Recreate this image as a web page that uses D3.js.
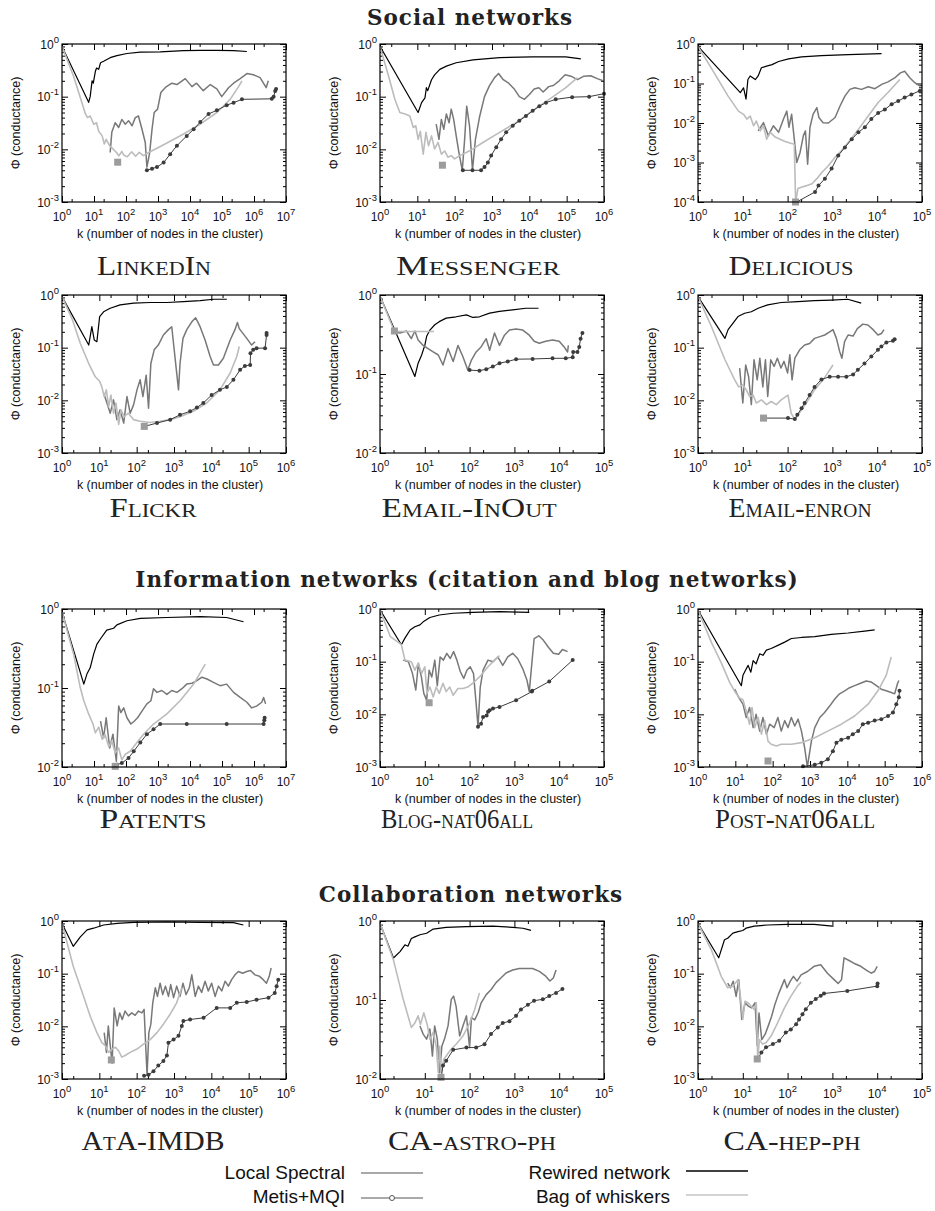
<!DOCTYPE html>
<html><head><meta charset="utf-8">
<script src="https://cdn.jsdelivr.net/npm/d3@7"></script>
<style>body{margin:0;background:#fff} svg{display:block}</style>
</head><body>
<svg id="chart" width="935" height="1211"></svg>
<script>
// ---------------- DATA (k = cluster size, phi = conductance) ----------------
const panelNames = ["LinkedIn","Messenger","Delicious","Flickr","Email-InOut","Email-enron","Patents","Blog-nat06all","Post-nat06all","AtA-IMDB","CA-astro-ph","CA-hep-ph"];
const xMaxExps = [7,6,5,6,5,5,7,5,6,6,5,5];
const yMinExps = [-3,-3,-4,-3,-2,-3,-2,-3,-3,-3,-2,-3];
const sectionTitles = ["Social networks","Information networks (citation and blog networks)","Collaboration networks"];
const legendLabels = ["Local Spectral","Metis+MQI","Rewired network","Bag of whiskers"];

// LinkedIn
const linkedinRewired = [[1,0.9],[6.8,0.078],[7.6,0.1],[8.7,0.2],[9.5,0.18],[11,0.3],[12,0.35],[14,0.33],[16,0.44],[20,0.47],[32,0.55],[52,0.6],[107,0.66],[280,0.7],[1180,0.71],[6300,0.75],[21000,0.76],[69000,0.76],[230000,0.75],[600000,0.72]];
const linkedinSpectral = [[32,0.0087],[36,0.021],[46,0.032],[59,0.026],[74,0.037],[95,0.03],[120,0.035],[155,0.028],[195,0.04],[245,0.043],[316,0.024],[400,0.0135],[450,0.0046],[550,0.0087],[650,0.024],[760,0.05],[970,0.058],[1230,0.12],[1700,0.15],[2700,0.18],[3900,0.17],[7100,0.22],[11500,0.155],[16000,0.18],[26000,0.13],[43000,0.17],[69000,0.14],[98000,0.1],[160000,0.148],[230000,0.18],[370000,0.22],[600000,0.275],[960000,0.26],[1550000,0.23],[2400000,0.148],[2800000,0.2]];
const linkedinWhiskers = [[1,0.9],[2.3,0.245],[4.2,0.077],[5.4,0.047],[6.3,0.04],[7.6,0.043],[9.8,0.03],[12,0.032],[14,0.022],[18,0.018],[21,0.0126],[24,0.0155],[31,0.0117],[39,0.0102],[52,0.0085],[60,0.0075],[74,0.0091],[85,0.0078],[110,0.0072],[150,0.009],[200,0.0074],[260,0.0088],[350,0.0076],[510,0.0087],[930,0.0105],[1900,0.0132],[6300,0.0195],[21000,0.03],[69000,0.05],[180000,0.089],[330000,0.155],[420000,0.2]];
const linkedinWhiskersMin = [55,0.0057];
const linkedinMetis = [[450,0.004],[650,0.0043],[930,0.0046],[1500,0.0056],[2400,0.0081],[3900,0.0117],[7900,0.018],[13000,0.024],[21000,0.033],[38000,0.047],[69000,0.055],[140000,0.069],[230000,0.077],[420000,0.089],[3600000,0.091],[4100000,0.1],[4600000,0.128],[4900000,0.14]];

// Messenger
const messengerRewired = [[1,0.9],[10.5,0.05],[13,0.077],[16,0.095],[17.5,0.148],[19,0.13],[24,0.21],[29,0.26],[40,0.33],[60,0.38],[110,0.44],[310,0.5],[1600,0.55],[12000,0.57],[95000,0.57],[240000,0.52]];
const messengerSpectral = [[32,0.03],[38,0.0155],[44,0.037],[51,0.024],[60,0.047],[71,0.032],[81,0.058],[94,0.037],[110,0.018],[130,0.0087],[160,0.004],[185,0.0155],[210,0.066],[250,0.028],[300,0.004],[360,0.0155],[470,0.043],[630,0.1],[850,0.16],[1170,0.23],[1500,0.275],[2000,0.21],[2800,0.18],[4000,0.138],[5400,0.1],[7400,0.089],[10000,0.11],[13500,0.14],[18000,0.148],[23500,0.123],[33000,0.155],[44000,0.163],[63000,0.2],[91000,0.26],[130000,0.245],[195000,0.21],[290000,0.245],[440000,0.25],[660000,0.22],[940000,0.2]];
const messengerWhiskers = [[1,0.9],[1.7,0.245],[2.5,0.089],[3.4,0.05],[4.7,0.047],[6.3,0.043],[7.8,0.026],[9.1,0.028],[10.5,0.0155],[12,0.022],[14.4,0.0081],[17,0.021],[20,0.0117],[24,0.018],[29,0.0102],[36,0.0135],[44,0.0081],[54,0.0093],[66,0.0071],[81,0.0076],[100,0.0066],[135,0.0076],[205,0.0087],[310,0.0102],[570,0.0135],[1600,0.021],[4400,0.032],[12300,0.054],[34000,0.089],[95000,0.148],[195000,0.23]];
const messengerWhiskersMin = [47,0.005];
const messengerMetis = [[166,0.004],[300,0.004],[510,0.004],[630,0.0046],[775,0.0056],[950,0.0076],[1300,0.011],[1750,0.0155],[2400,0.021],[3600,0.028],[5400,0.035],[8100,0.043],[12300,0.054],[18500,0.066],[28000,0.077],[51000,0.089],[140000,0.098],[400000,0.1],[1000000,0.114]];

// Delicious
const deliciousRewired = [[1,0.87],[8.8,0.059],[10.4,0.078],[11.8,0.04],[13,0.126],[14.6,0.155],[19,0.126],[22,0.155],[26,0.25],[34,0.275],[45,0.3],[63,0.36],[105,0.42],[205,0.47],[570,0.51],[2250,0.54],[12500,0.57]];
const deliciousSpectral = [[22,0.0063],[29,0.0102],[37,0.0048],[48,0.0085],[63,0.0058],[81,0.0126],[96,0.02],[107,0.0078],[123,0.0166],[141,0.0039],[160,0.001],[190,0.0018],[225,0.0048],[250,0.0063],[280,0.0009],[316,0.0078],[370,0.0166],[450,0.0245],[500,0.0138],[620,0.0102],[810,0.01],[1150,0.0138],[1480,0.027],[1900,0.048],[2450,0.071],[3160,0.078],[4470,0.071],[6300,0.083],[8900,0.074],[12600,0.095],[17400,0.11],[24500,0.138],[33000,0.186],[41000,0.204],[54000,0.138],[69000,0.105],[89000,0.087]];
const deliciousWhiskers = [[1,0.87],[2.3,0.186],[4.7,0.048],[8,0.02],[10.4,0.0166],[12.3,0.0126],[14.6,0.015],[17.4,0.0085],[20,0.0112],[24.5,0.0063],[29,0.0085],[34,0.0039],[41,0.0058],[53,0.0044],[68,0.0039],[88,0.0034],[112,0.0031],[141,0.0029],[151,0.0001],[170,0.00022],[210,0.00024],[270,0.00026],[350,0.00029],[450,0.00039],[580,0.00056],[810,0.00083],[1150,0.00135],[1600,0.002],[2250,0.0032],[3800,0.0069],[6300,0.015],[10500,0.033],[17400,0.059],[32000,0.126]];
const deliciousWhiskersMin = [150,0.0001];
const deliciousMetis = [[160,0.0001],[410,0.00018],[490,0.00026],[680,0.00039],[960,0.0007],[1350,0.0015],[1900,0.0024],[2700,0.0039],[3800,0.0058],[5300,0.0078],[7400,0.0126],[10500,0.018],[14800,0.022],[21000,0.03],[29500,0.036],[41000,0.044],[58000,0.053],[89000,0.065]];

// Flickr
const flickrRewired = [[1,0.93],[5.2,0.112],[6.3,0.25],[7.3,0.14],[8.6,0.13],[10.2,0.39],[13,0.48],[19.5,0.56],[36,0.65],[83,0.7],[230,0.72],[650,0.72],[1800,0.75],[5000,0.78],[11500,0.83],[26000,0.83]];
const flickrSpectral = [[13,0.0138],[16,0.0089],[19.6,0.0057],[24,0.0102],[29.5,0.0043],[36,0.0066],[45,0.0037],[55,0.0118],[67,0.0057],[83,0.0083],[102,0.0158],[124,0.0245],[147,0.0118],[180,0.03],[208,0.0071],[240,0.05],[295,0.091],[380,0.112],[520,0.174],[710,0.22],[870,0.25],[1320,0.0158],[1450,0.05],[1740,0.15],[2200,0.22],[3000,0.31],[3800,0.37],[5000,0.25],[6800,0.14],[9300,0.068],[11400,0.047],[15500,0.047],[21000,0.063],[32000,0.14],[43000,0.22],[50000,0.3],[56000,0.23],[89000,0.15],[120000,0.112],[148000,0.13]];
const flickrWhiskers = [[1,0.93],[1.9,0.34],[3.1,0.12],[5.2,0.05],[7.8,0.028],[10.2,0.023],[11.7,0.018],[13.5,0.0118],[15.4,0.0158],[17.7,0.0076],[20.4,0.0126],[24,0.0057],[28,0.0089],[33,0.0035],[38,0.0066],[46,0.0049],[60,0.0057],[83,0.0043],[124,0.004],[230,0.0038],[425,0.004],[790,0.0043],[1450,0.0049],[3300,0.0062],[7500,0.0089],[17000,0.0158],[32000,0.033],[48000,0.068],[56000,0.105]];
const flickrWhiskersMin = [160,0.0032];
const flickrMetis = [[160,0.0032],[350,0.0037],[790,0.0043],[1450,0.0053],[2700,0.0062],[4100,0.0073],[6100,0.0089],[10200,0.0126],[17000,0.0158],[26000,0.018],[39000,0.0245],[59000,0.038],[79000,0.045],[110000,0.047],[112000,0.078],[132000,0.091],[163000,0.098],[275000,0.098],[302000,0.174],[302000,0.19]];

// Email-InOut
const emailInOutRewired = [[1,0.97],[6,0.093],[7.1,0.137],[8.5,0.174],[10,0.23],[11,0.3],[13,0.36],[16.7,0.42],[21,0.46],[30,0.51],[50,0.53],[85,0.56],[118,0.52],[166,0.53],[280,0.59],[465,0.62],[910,0.65],[1800,0.68],[3450,0.68]];
const emailInOutSpectral = [[2,0.34],[2.8,0.33],[3.9,0.35],[5,0.28],[6,0.35],[7.1,0.27],[9.2,0.23],[11.8,0.21],[15.4,0.19],[20,0.174],[25.5,0.13],[33,0.21],[43,0.144],[55,0.23],[71,0.165],[91,0.112],[110,0.15],[140,0.19],[180,0.22],[235,0.28],[280,0.2],[360,0.33],[465,0.23],[600,0.31],[775,0.36],[1090,0.37],[1540,0.36],[2150,0.31],[2760,0.26],[3600,0.245],[5000,0.26],[7100,0.27],[10000,0.26],[12900,0.22],[15400,0.19],[16000,0.23]];
const emailInOutWhiskers = [[1,0.97],[2.1,0.345],[16,0.345]];
const emailInOutWhiskersMin = [2.1,0.35];
const emailInOutMetis = [[100,0.112],[166,0.11],[235,0.115],[330,0.124],[465,0.137],[710,0.144],[1090,0.154],[2550,0.155],[7100,0.158],[14000,0.158],[20000,0.163],[20500,0.19],[25500,0.19],[28000,0.22],[30000,0.28],[33000,0.33]];

// Email-enron
const emailEnronRewired = [[1,0.93],[4,0.15],[4.7,0.22],[6,0.29],[7.8,0.39],[11,0.45],[15.5,0.48],[22,0.56],[36,0.65],[72,0.72],[170,0.75],[400,0.78],[950,0.8],[2200,0.83],[4400,0.7]];
const emailEnronSpectral = [[8.5,0.041],[10,0.0089],[11.6,0.047],[13.5,0.028],[15.5,0.0083],[17.8,0.059],[21,0.0245],[24,0.063],[28,0.018],[32,0.059],[36,0.0118],[42,0.059],[50,0.044],[59,0.063],[71,0.041],[83,0.055],[100,0.033],[112,0.073],[126,0.0245],[145,0.063],[186,0.091],[240,0.112],[310,0.12],[400,0.15],[525,0.162],[675,0.174],[870,0.2],[1030,0.22],[1230,0.15],[1450,0.085],[1630,0.063],[1870,0.13],[2240,0.174],[2900,0.166],[3600,0.23],[4800,0.28],[6200,0.27],[8100,0.22],[10400,0.174],[12400,0.186],[14200,0.22]];
const emailEnronWhiskers = [[1,0.93],[2,0.25],[4,0.059],[6.6,0.0245],[8.1,0.018],[10,0.0196],[12,0.0158],[14.2,0.0118],[17,0.0126],[20,0.0089],[26,0.0102],[34,0.0083],[43,0.0095],[56,0.0083],[72,0.0102],[102,0.0126],[120,0.0057],[145,0.0043],[205,0.0066],[290,0.0102],[400,0.0158],[620,0.0245],[1030,0.047]];
const emailEnronWhiskersMin = [29,0.0046];
const emailEnronMetis = [[29,0.0046],[102,0.0046],[145,0.0044],[165,0.0053],[205,0.0071],[240,0.0089],[310,0.0126],[400,0.018],[570,0.025],[870,0.028],[1340,0.028],[2050,0.028],[2900,0.031],[3700,0.038],[5200,0.05],[7400,0.068],[10400,0.091],[12400,0.105],[16000,0.126],[22500,0.135],[24500,0.144]];

// Patents
const patentsRewired = [[1,0.92],[4.8,0.112],[6,0.15],[7.6,0.18],[9.8,0.27],[12.4,0.36],[16,0.42],[25,0.54],[41,0.57],[52,0.63],[107,0.71],[280,0.76],[1900,0.78],[21000,0.8],[140000,0.78],[470000,0.69]];
const patentsSpectral = [[16,0.038],[20,0.0234],[24,0.042],[31,0.0174],[39,0.026],[50,0.0118],[59,0.059],[69,0.049],[85,0.056],[107,0.042],[142,0.035],[180,0.038],[230,0.042],[316,0.051],[450,0.063],[600,0.069],[725,0.098],[930,0.088],[1320,0.093],[1900,0.083],[2700,0.093],[3900,0.088],[5600,0.098],[7900,0.112],[11500,0.115],[16000,0.123],[23500,0.137],[34000,0.13],[54000,0.118],[87000,0.107],[140000,0.112],[230000,0.088],[370000,0.076],[600000,0.066],[850000,0.056],[1200000,0.059],[1750000,0.066],[2000000,0.076],[2300000,0.063]];
const patentsWhiskers = [[1,0.92],[2.3,0.27],[3.7,0.102],[4.8,0.069],[6.8,0.047],[9.3,0.035],[11,0.027],[14,0.032],[18,0.0224],[22,0.026],[29,0.018],[36,0.0214],[46,0.015],[59,0.0174],[74,0.0123],[95,0.0145],[135,0.0158],[220,0.0204],[355,0.026],[725,0.035],[1900,0.047],[4900,0.069],[13000,0.112],[30000,0.2]];
const patentsWhiskersMin = [46,0.0102];
const patentsMetis = [[52,0.0107],[74,0.0112],[120,0.013],[174,0.0158],[280,0.0204],[450,0.026],[725,0.03],[1170,0.035],[7900,0.035],[140000,0.035],[2000000,0.035],[2100000,0.039],[2150000,0.042]];

// Blog-nat06all
const blogRewired = [[1,0.96],[3,0.21],[3.6,0.28],[4.7,0.4],[6,0.46],[7.8,0.5],[9.2,0.57],[13,0.69],[21,0.77],[43,0.83],[118,0.86],[465,0.89],[2150,0.86]];
const blogSpectral = [[3.3,0.107],[4.3,0.1],[5.3,0.06],[6.3,0.029],[7.2,0.093],[8.4,0.051],[9.5,0.025],[11,0.0186],[12.5,0.069],[14.3,0.051],[16.7,0.107],[19,0.035],[22,0.123],[26,0.107],[31,0.144],[37,0.115],[44,0.155],[52,0.107],[62,0.065],[74,0.048],[87,0.069],[103,0.08],[122,0.06],[140,0.016],[154,0.0058],[173,0.033],[200,0.069],[258,0.107],[333,0.1],[425,0.123],[550,0.085],[710,0.123],[915,0.144],[1180,0.115],[1530,0.074],[1900,0.045],[2150,0.027],[2450,0.093],[2760,0.275],[3500,0.31],[4400,0.257],[5800,0.186],[7400,0.144],[9700,0.138],[11800,0.17],[15400,0.155]];
const blogWhiskers = [[1,0.96],[1.7,0.3],[3,0.21],[3.6,0.107],[5,0.1],[6,0.069],[7.1,0.093],[8.5,0.06],[10,0.08],[11.2,0.025],[13,0.033],[15.4,0.0214],[18,0.033],[21,0.025],[25.5,0.039],[30,0.027],[36,0.033],[43,0.023],[55,0.031],[71,0.031],[91,0.033],[130,0.042],[180,0.055],[258,0.08],[360,0.107],[465,0.13]];
const blogWhiskersMin = [12.5,0.0166];
const blogMetis = [[154,0.0058],[180,0.0066],[200,0.0089],[240,0.0095],[258,0.0112],[280,0.012],[333,0.0129],[465,0.0138],[1090,0.0186],[2450,0.027],[2500,0.028],[6000,0.042],[20000,0.107]];

// Post-nat06all
const postRewired = [[1,0.96],[14.5,0.035],[16,0.055],[18.6,0.068],[22,0.085],[26,0.063],[30,0.105],[36,0.091],[45,0.141],[55,0.132],[68,0.166],[91,0.178],[138,0.204],[210,0.235],[316,0.275],[590,0.288],[1340,0.3],[3700,0.33],[10500,0.35],[29000,0.38],[54000,0.4]];
const postSpectral = [[9.6,0.03],[12.3,0.021],[16,0.0156],[19.6,0.0087],[24,0.0135],[30,0.0056],[36,0.01],[45,0.0048],[55,0.0087],[68,0.0042],[83,0.0065],[110,0.0056],[138,0.0087],[170,0.0048],[210,0.0076],[258,0.0056],[316,0.0087],[390,0.006],[480,0.0081],[590,0.0048],[720,0.0023],[850,0.001],[1090,0.0031],[1340,0.0056],[1830,0.0087],[2460,0.0108],[3400,0.0145],[4600,0.0195],[6200,0.0245],[8500,0.028],[11500,0.032],[15700,0.035],[21000,0.038],[32000,0.043],[44000,0.041],[60000,0.035],[81000,0.03],[110000,0.028],[150000,0.026],[185000,0.0245],[220000,0.038],[240000,0.044]];
const postWhiskers = [[1,0.96],[2.3,0.23],[4.2,0.095],[7.1,0.04],[9.6,0.0275],[13,0.0204],[16,0.019],[19.6,0.0115],[24,0.0065],[28,0.0135],[33,0.0056],[41,0.0087],[50,0.0042],[61,0.0076],[75,0.0031],[91,0.0027],[126,0.0025],[170,0.0027],[316,0.0027],[590,0.0029],[1340,0.0036],[3000,0.0048],[6900,0.0065],[15700,0.0093],[36000,0.0156],[66000,0.028],[110000,0.055],[150000,0.123]];
const postWhiskersMin = [75,0.0013];
const postMetis = [[650,0.00103],[1340,0.0011],[2000,0.0012],[3000,0.0014],[4100,0.002],[5100,0.0029],[6900,0.0033],[10500,0.0036],[14000,0.0042],[19500,0.0048],[26000,0.0065],[36000,0.0069],[54000,0.0076],[81000,0.0081],[123000,0.0093],[167000,0.0108],[205000,0.0156],[240000,0.021],[250000,0.028]];

// AtA-IMDB
const ataRewired = [[1,0.9],[2,0.33],[3.1,0.5],[4.7,0.68],[7,0.73],[13,0.84],[30,0.9],[83,0.94],[650,0.96],[5000,0.94],[39000,0.93],[72000,0.84]];
const ataSpectral = [[13.5,0.0076],[15.5,0.0032],[17.4,0.0102],[19.6,0.0043],[22,0.002],[25,0.0224],[30,0.0102],[35,0.018],[41,0.0135],[49,0.0195],[60,0.0158],[74,0.018],[91,0.0162],[112,0.0195],[138,0.018],[158,0.021],[178,0.0032],[190,0.0012],[212,0.0076],[240,0.011],[270,0.028],[316,0.054],[360,0.037],[425,0.066],[500,0.04],[590,0.058],[710,0.037],[815,0.062],[975,0.035],[1180,0.058],[1450,0.037],[1740,0.066],[2100,0.04],[2570,0.054],[3000,0.095],[3700,0.037],[4500,0.058],[5500,0.044],[6800,0.072],[8300,0.047],[10200,0.066],[12600,0.037],[15500,0.058],[19000,0.047],[23400,0.072],[28600,0.058],[35000,0.077],[43000,0.095],[53000,0.11],[69000,0.102],[89000,0.11],[112000,0.115],[148000,0.095],[195000,0.089],[245000,0.077],[300000,0.066],[355000,0.089],[400000,0.128]];
const ataWhiskers = [[1,0.9],[2,0.138],[3.8,0.037],[5.7,0.0155],[8.6,0.0076],[11.7,0.0049],[14.4,0.0043],[17.7,0.0032],[22,0.0037],[27,0.004],[33,0.0034],[40,0.0026],[49,0.0028],[67,0.0032],[102,0.0037],[152,0.0046],[230,0.0056],[350,0.0076],[520,0.011],[790,0.017],[1180,0.028],[1620,0.054]];
const ataWhiskersMin = [21,0.0023];
const ataMetis = [[158,0.00115],[208,0.0012],[282,0.0014],[380,0.0018],[520,0.0022],[645,0.0028],[710,0.0049],[975,0.0056],[1320,0.0066],[1620,0.0102],[1780,0.0126],[2700,0.0135],[6200,0.0145],[13900,0.0224],[32000,0.0224],[48000,0.028],[89000,0.029],[163000,0.032],[340000,0.035],[500000,0.043],[560000,0.058],[620000,0.077]];

// CA-astro-ph
const astroRewired = [[1,0.94],[2,0.34],[2.8,0.41],[3.6,0.5],[4.2,0.48],[5,0.6],[6,0.63],[7.8,0.67],[11,0.7],[15.4,0.79],[30,0.83],[85,0.85],[330,0.86],[920,0.83],[1550,0.81],[2350,0.76]];
const astroSpectral = [[7.8,0.047],[9.2,0.037],[11,0.032],[13,0.043],[14.8,0.0195],[16.6,0.047],[19,0.032],[21.5,0.012],[24,0.026],[27.5,0.032],[33,0.047],[39,0.102],[44,0.112],[50,0.083],[60,0.035],[71,0.047],[85,0.063],[100,0.025],[110,0.06],[130,0.056],[155,0.069],[180,0.091],[235,0.117],[300,0.135],[390,0.166],[500,0.19],[650,0.22],[915,0.24],[1290,0.25],[1820,0.25],[2550,0.25],[3600,0.23],[5000,0.2],[6200,0.174],[7400,0.19],[8500,0.24]];
const astroWhiskers = [[1,0.94],[2,0.32],[3.3,0.102],[5,0.045],[6,0.051],[7.1,0.063],[8,0.049],[9.5,0.069],[11.3,0.049],[13,0.032],[15.4,0.039],[18,0.026],[20,0.012],[21.5,0.026],[23.5,0.012],[26.5,0.0178],[30,0.0195],[39,0.024],[50,0.0275],[71,0.035],[100,0.051],[130,0.076],[166,0.123]];
const astroWhiskersMin = [23,0.0105];
const astroMetis = [[23,0.0102],[25.5,0.0148],[30,0.017],[43,0.0234],[85,0.025],[140,0.025],[215,0.0275],[300,0.037],[425,0.045],[550,0.051],[775,0.054],[1090,0.063],[1400,0.076],[2000,0.087],[2750,0.098],[4300,0.102],[6000,0.112],[8500,0.123],[11800,0.138]];

// CA-hep-ph
const hepRewired = [[1,0.9],[2.9,0.2],[3.9,0.44],[4.6,0.47],[6,0.59],[7.8,0.63],[10,0.66],[11.8,0.73],[18,0.8],[36,0.84],[100,0.86],[390,0.86],[1000,0.8]];
const hepSpectral = [[4.6,0.066],[5.3,0.054],[6.1,0.072],[7.1,0.037],[8.1,0.077],[9.5,0.0135],[11.2,0.028],[13.4,0.024],[15.8,0.0224],[18.8,0.028],[21,0.0043],[23,0.018],[26.5,0.0056],[31.6,0.0071],[37,0.0102],[44,0.0155],[52,0.026],[62,0.04],[74,0.058],[85,0.077],[97,0.054],[115,0.072],[135,0.089],[162,0.072],[200,0.095],[277,0.11],[390,0.138],[550,0.148],[775,0.102],[1090,0.077],[1340,0.065],[1600,0.077],[1820,0.2],[2350,0.178],[3000,0.158],[4300,0.138],[5800,0.115],[7400,0.102],[8700,0.11],[10000,0.138]];
const hepWhiskers = [[1,0.9],[2,0.28],[3.3,0.089],[4.6,0.054],[6,0.058],[7.8,0.077],[8.9,0.035],[10,0.0135],[11.2,0.03],[13,0.028],[15.4,0.024],[18,0.021],[20,0.028],[21.5,0.0024],[23.5,0.0056],[27.5,0.0046],[33,0.0049],[43,0.0066],[60,0.0117],[85,0.0224],[118,0.037],[166,0.058],[200,0.069]];
const hepWhiskersMin = [21,0.0024];
const hepMetis = [[21,0.0023],[26,0.0032],[33,0.004],[47,0.0046],[65,0.0053],[91,0.0076],[118,0.0087],[155,0.011],[180,0.0135],[215,0.017],[255,0.021],[330,0.028],[425,0.033],[550,0.038],[650,0.042],[2150,0.047],[10000,0.058],[10200,0.065]];

const rewiredSeries = [linkedinRewired,messengerRewired,deliciousRewired,flickrRewired,emailInOutRewired,emailEnronRewired,patentsRewired,blogRewired,postRewired,ataRewired,astroRewired,hepRewired];
const spectralSeries = [linkedinSpectral,messengerSpectral,deliciousSpectral,flickrSpectral,emailInOutSpectral,emailEnronSpectral,patentsSpectral,blogSpectral,postSpectral,ataSpectral,astroSpectral,hepSpectral];
const whiskersSeries = [linkedinWhiskers,messengerWhiskers,deliciousWhiskers,flickrWhiskers,emailInOutWhiskers,emailEnronWhiskers,patentsWhiskers,blogWhiskers,postWhiskers,ataWhiskers,astroWhiskers,hepWhiskers];
const whiskersMinPoints = [linkedinWhiskersMin,messengerWhiskersMin,deliciousWhiskersMin,flickrWhiskersMin,emailInOutWhiskersMin,emailEnronWhiskersMin,patentsWhiskersMin,blogWhiskersMin,postWhiskersMin,ataWhiskersMin,astroWhiskersMin,hepWhiskersMin];
const metisSeries = [linkedinMetis,messengerMetis,deliciousMetis,flickrMetis,emailInOutMetis,emailEnronMetis,patentsMetis,blogMetis,postMetis,ataMetis,astroMetis,hepMetis];

// ---------------- LAYOUT / STYLE ----------------
const W = 224, H = 158;
const colLeft = [62, 380, 698];
const rowTop = [44, 295, 609, 921];
const labelBase = [275, 517, 828, 1150];
const labelCenterX = [154,478,791, 153,469,800, 153,457,795, 153,472,792];
const labelWidths = [114,164,125, 87,175,143, 107,152,160, 143,168,137];
const sectionLayout = [{x:470,y:25},{x:467,y:587},{x:471,y:902}];
const COL = {rewired:'#000000', spectral:'#787878', whiskers:'#bcbcbc', metis:'#3c3c3c', square:'#9c9c9c'};
const SANS = "'Liberation Sans', Arial, Helvetica, sans-serif";
const SERIF = "'Liberation Serif', 'Times New Roman', serif";

const svg = d3.select('#chart');
svg.append('rect').attr('width',935).attr('height',1211).attr('fill','#fff');

function powLabel(sel, exp) {
  sel.append('tspan').text('10');
  sel.append('tspan').attr('dy', -6).attr('font-size', 9.5).text(String(exp));
}

panelNames.forEach((name, i) => {
  const r = Math.floor(i / 3), c = i % 3;
  const g = svg.append('g').attr('transform', `translate(${colLeft[c]},${rowTop[r]})`);
  const xMax = xMaxExps[i], yMin = yMinExps[i];
  const x = d3.scaleLog().domain([1, Math.pow(10, xMax)]).range([0, W]);
  const y = d3.scaleLog().domain([Math.pow(10, yMin), 1]).range([H, 0]);

  const xMajor = d3.range(0, xMax + 1).map(e => Math.pow(10, e));
  const xMinor = d3.range(0, xMax).map(e => 2 * Math.pow(10, e));
  const yMajor = d3.range(yMin, 1).map(e => Math.pow(10, e));
  const yMinor = [];
  for (let e = yMin; e < 0; e++) for (let m = 2; m <= 9; m++) yMinor.push(m * Math.pow(10, e));

  const clipId = 'clip' + i;
  g.append('clipPath').attr('id', clipId).append('rect').attr('width', W).attr('height', H);

  const addAxis = (axis, tx, ty) => {
    const a = g.append('g').attr('transform', `translate(${tx},${ty})`).call(axis);
    a.select('.domain').remove();
    a.selectAll('text').remove();
    a.selectAll('line').attr('stroke', '#000').attr('stroke-width', 1);
  };
  addAxis(d3.axisBottom(x).tickValues(xMajor).tickSizeInner(-6).tickSizeOuter(0), 0, H);
  addAxis(d3.axisBottom(x).tickValues(xMinor).tickSizeInner(-3).tickSizeOuter(0), 0, H);
  addAxis(d3.axisTop(x).tickValues(xMajor).tickSizeInner(-6).tickSizeOuter(0), 0, 0);
  addAxis(d3.axisTop(x).tickValues(xMinor).tickSizeInner(-3).tickSizeOuter(0), 0, 0);
  addAxis(d3.axisLeft(y).tickValues(yMajor).tickSizeInner(-6).tickSizeOuter(0), 0, 0);
  addAxis(d3.axisLeft(y).tickValues(yMinor).tickSizeInner(-3).tickSizeOuter(0), 0, 0);
  addAxis(d3.axisRight(y).tickValues(yMajor).tickSizeInner(-6).tickSizeOuter(0), W, 0);
  addAxis(d3.axisRight(y).tickValues(yMinor).tickSizeInner(-3).tickSizeOuter(0), W, 0);

  xMajor.forEach(d => {
    const t = g.append('text').attr('x', x(d)).attr('y', H + 19)
      .attr('text-anchor', 'middle').attr('font-family', SANS).attr('font-size', 12).attr('fill', '#111');
    powLabel(t, Math.round(Math.log10(d)));
  });
  yMajor.forEach(d => {
    const t = g.append('text').attr('x', -3).attr('y', y(d) + 4.5)
      .attr('text-anchor', 'end').attr('font-family', SANS).attr('font-size', 12).attr('fill', '#111');
    powLabel(t, Math.round(Math.log10(d)));
  });

  g.append('text').attr('x', W / 2 - 4).attr('y', H + 36).attr('text-anchor', 'middle')
    .attr('font-family', SANS).attr('font-size', 12.5).attr('fill', '#111')
    .text('k (number of nodes in the cluster)');
  g.append('text').attr('transform', `translate(${-42},${H / 2}) rotate(-90)`).attr('text-anchor', 'middle')
    .attr('font-family', SANS).attr('font-size', 12.5).attr('fill', '#111')
    .text('\u03A6 (conductance)');

  const line = d3.line().x(d => x(d[0])).y(d => y(d[1]));
  const plot = g.append('g').attr('clip-path', `url(#${clipId})`);
  plot.append('path').datum(rewiredSeries[i]).attr('d', line).attr('fill', 'none')
    .attr('stroke', COL.rewired).attr('stroke-width', 1.2).attr('stroke-linejoin', 'round');
  plot.append('path').datum(spectralSeries[i]).attr('d', line).attr('fill', 'none')
    .attr('stroke', COL.spectral).attr('stroke-width', 1.5).attr('stroke-linejoin', 'round');
  plot.append('path').datum(whiskersSeries[i]).attr('d', line).attr('fill', 'none')
    .attr('stroke', COL.whiskers).attr('stroke-width', 1.6).attr('stroke-linejoin', 'round');
  plot.append('path').datum(metisSeries[i]).attr('d', line).attr('fill', 'none')
    .attr('stroke', COL.metis).attr('stroke-width', 1).attr('stroke-linejoin', 'round');
  g.selectAll('circle.m').data(metisSeries[i]).enter().append('circle').attr('class', 'm')
    .attr('cx', d => x(d[0])).attr('cy', d => y(d[1])).attr('r', 2).attr('fill', COL.metis);
  const wm = whiskersMinPoints[i];
  g.append('rect').attr('x', x(wm[0]) - 3.5).attr('y', y(wm[1]) - 3.5).attr('width', 7).attr('height', 7)
    .attr('fill', COL.square);

  g.append('rect').attr('width', W).attr('height', H).attr('fill', 'none').attr('stroke', '#000').attr('stroke-width', 1.2);

  svg.append('text').attr('x', labelCenterX[i]).attr('y', labelBase[r]).attr('text-anchor', 'middle')
    .attr('font-family', SERIF).attr('font-size', 27).style('font-variant', 'small-caps')
    .attr('textLength', labelWidths[i]).attr('lengthAdjust', 'spacingAndGlyphs')
    .attr('fill', '#222').text(name);
});

sectionTitles.forEach((t, j) => {
  svg.append('text').attr('x', sectionLayout[j].x).attr('y', sectionLayout[j].y).attr('text-anchor', 'middle')
    .attr('font-family', "'DejaVu Serif', serif").attr('font-weight', 'bold').attr('font-size', 21.5)
    .attr('letter-spacing', 1).attr('fill', '#222').text(t);
});

const legendItems = [
  {label: legendLabels[0], tx: 345, ty: 1179, lx: 361, ly: 1173, color: '#8c8c8c', w: 1.5, marker: false},
  {label: legendLabels[1], tx: 345, ty: 1203, lx: 361, ly: 1198, color: '#555', w: 1, marker: true},
  {label: legendLabels[2], tx: 670, ty: 1179, lx: 686, ly: 1171, color: '#000', w: 1.5, marker: false},
  {label: legendLabels[3], tx: 670, ty: 1203, lx: 686, ly: 1195, color: '#c4c4c4', w: 1.5, marker: false}
];
legendItems.forEach(it => {
  svg.append('text').attr('x', it.tx).attr('y', it.ty).attr('text-anchor', 'end')
    .attr('font-family', SANS).attr('font-size', 19).attr('fill', '#111').text(it.label);
  svg.append('line').attr('x1', it.lx).attr('x2', it.lx + 62).attr('y1', it.ly).attr('y2', it.ly)
    .attr('stroke', it.color).attr('stroke-width', it.w);
  if (it.marker) svg.append('circle').attr('cx', it.lx + 31).attr('cy', it.ly).attr('r', 2.5)
    .attr('fill', '#fff').attr('stroke', it.color).attr('stroke-width', 1);
});
</script>
</body></html>
